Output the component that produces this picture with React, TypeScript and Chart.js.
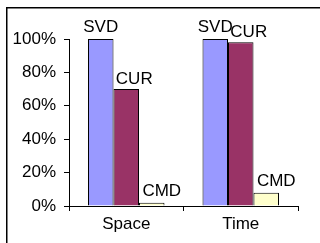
import React, { useEffect, useRef } from 'react';
import { Chart, registerables } from 'chart.js';

Chart.register(...registerables);

const categories = ['Space', 'Time'];
const seriesNames = ['SVD', 'CUR', 'CMD'];
const svdValues = [100, 100];
const curValues = [70, 98];
const cmdValues = [2, 8];
const yTicks = [0, 20, 40, 60, 80, 100];

const colors = ['#9999FF', '#993366', '#FFFFCC'];
const labelDx = [0, 8, 10];
const labelDy = [7, 5, 7];
const FONT = '"Liberation Sans", Arial, sans-serif';
const FONT_SIZE = 17;

const framePlugin = {
  id: 'frame',
  beforeDraw(chart: any) {
    const ctx = chart.ctx;
    ctx.save();
    ctx.fillStyle = '#fff';
    ctx.fillRect(0, 0, chart.width, chart.height);
    ctx.strokeStyle = '#000';
    ctx.lineWidth = 1.5;
    ctx.beginPath();
    ctx.moveTo(6.75, chart.height);
    ctx.lineTo(6.75, 7.75);
    ctx.lineTo(chart.width, 7.75);
    ctx.stroke();
    ctx.restore();
  },
};

const labelPlugin = {
  id: 'barLabels',
  afterDatasetsDraw(chart: any) {
    const ctx = chart.ctx;
    ctx.save();
    ctx.font = `${FONT_SIZE}px ${FONT}`;
    ctx.fillStyle = '#000';
    ctx.textAlign = 'center';
    ctx.textBaseline = 'alphabetic';
    chart.data.datasets.forEach((ds: any, i: number) => {
      const meta = chart.getDatasetMeta(i);
      meta.data.forEach((bar: any) => {
        ctx.fillText(seriesNames[i], bar.x + labelDx[i], bar.y - labelDy[i]);
      });
    });
    ctx.restore();
  },
};

export default function App() {
  const ref = useRef<HTMLCanvasElement>(null);
  useEffect(() => {
    if (!ref.current) return;
    const values = [svdValues, curValues, cmdValues];
    const chart = new Chart(ref.current, {
      type: 'bar',
      data: {
        labels: categories,
        datasets: seriesNames.map((name, i) => ({
          label: name,
          data: values[i],
          backgroundColor: colors[i],
          borderColor: '#000',
          borderWidth: 1,
          barPercentage: 1,
          categoryPercentage: 0.668,
        })),
      },
      options: {
        responsive: false,
        animation: false,
        events: [],
        layout: { padding: { left: 9, top: 39, right: 22, bottom: 0 } },
        plugins: { legend: { display: false }, tooltip: { enabled: false } },
        scales: {
          x: {
            offset: true,
            grid: { display: true, drawOnChartArea: false, tickLength: 5, color: '#000', offset: true },
            border: { color: '#000', width: 1 },
            ticks: { color: '#000', font: { size: FONT_SIZE, family: FONT }, padding: 3 },
            afterFit: (s: any) => {
              s.height = 37;
            },
          },
          y: {
            min: 0,
            max: 100,
            afterBuildTicks: (s: any) => {
              s.ticks = yTicks.map((v) => ({ value: v }));
            },
            ticks: {
              color: '#000',
              font: { size: FONT_SIZE, family: FONT },
              padding: 8,
              callback: (v: any) => v + '%',
            },
            grid: { drawOnChartArea: false, tickLength: 5, color: '#000' },
            border: { color: '#000', width: 1 },
            afterFit: (s: any) => {
              s.width = 60;
            },
          },
        },
      },
      plugins: [framePlugin, labelPlugin],
    });
    return () => chart.destroy();
  }, []);
  return (
    <div style={{ position: 'fixed', left: 0, top: 0, width: 320, height: 243 }}>
      <canvas ref={ref} width={320} height={243} style={{ width: 320, height: 243 }} />
    </div>
  );
}
